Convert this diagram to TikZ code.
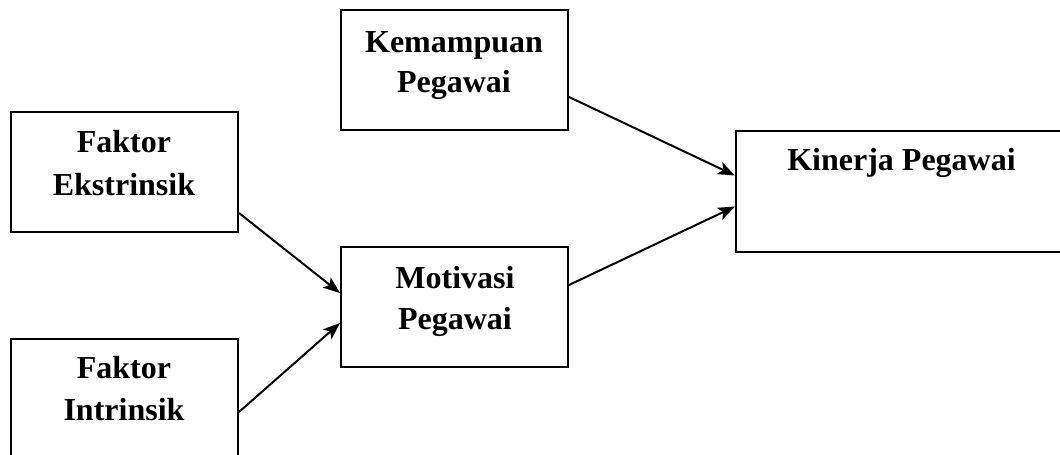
\documentclass[tikz,border=0pt]{standalone}
\usepackage{fontspec}
\setmainfont{Liberation Serif}
\usetikzlibrary{arrows.meta}
\begin{document}
\begin{tikzpicture}[x=1pt,y=-1pt,
  box/.style={draw,line width=2pt,rectangle,inner sep=0pt},
  lbl/.style={font=\fontsize{32}{43}\selectfont\bfseries,anchor=base,inner sep=0pt},
  conn/.style={line width=2pt,-{Stealth[length=17pt,width=13pt,inset=4pt]}}]
\useasboundingbox (0,0) rectangle (1060,455);
\clip (0,0) rectangle (1060,455);
% boxes
\node[box,minimum width=227pt,minimum height=120pt] (ekst) at (124.5,172) {};
\node[box,minimum width=227pt,minimum height=130pt] (intr) at (124.5,404) {};
\node[box,minimum width=227pt,minimum height=120pt] (kemp) at (454.5,70) {};
\node[box,minimum width=227pt,minimum height=120pt] (moti) at (454.5,307) {};
\node[box,minimum width=332pt,minimum height=121pt] (kine) at (902,191.5) {};
% labels
\node[lbl] (t1) at (124,152) {Faktor};
\node[lbl] (t2) at (124,195) {Ekstrinsik};
\node[lbl] (t3) at (124,378) {Faktor};
\node[lbl] (t4) at (124,420) {Intrinsik};
\node[lbl] (t5) at (454,52) {Kemampuan};
\node[lbl] (t6) at (454,92) {Pegawai};
\node[lbl] (t7) at (455,288) {Motivasi};
\node[lbl] (t8) at (455,329) {Pegawai};
\node[lbl] (t9) at (901.5,170) {Kinerja Pegawai};
% connector end points
\coordinate (eO) at ([yshift=-41pt]ekst.east);
\coordinate (iO) at ([yshift=-8pt]intr.east);
\coordinate (mI1) at ([yshift=14pt]moti.west);
\coordinate (mI2) at ([yshift=-16pt]moti.west);
\coordinate (kO) at ([yshift=-27pt]kemp.east);
\coordinate (mO) at ([yshift=22pt]moti.east);
\coordinate (kI1) at ([yshift=16pt]kine.west);
\coordinate (kI2) at ([yshift=-15pt]kine.west);
\draw[conn] (eO) -- (mI1);
\draw[conn] (iO) -- (mI2);
\draw[conn] (kO) -- (kI1);
\draw[conn] (mO) -- (kI2);
\end{tikzpicture}
\end{document}
